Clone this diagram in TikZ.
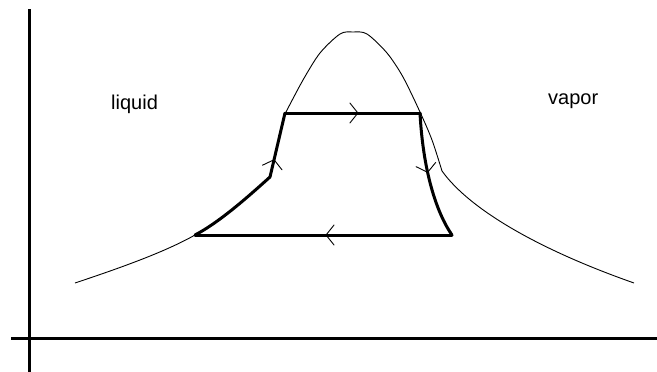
\documentclass[tikz,border=0pt]{standalone}
\usepackage{fontspec}
\setmainfont{Liberation Sans}
\usetikzlibrary{decorations.markings}
\tikzset{
  axis/.style={line width=3pt},
  dome/.style={line width=0.9pt},
  leg/.style={line width=3pt, line cap=round, line join=round},
  chev/.style={postaction=decorate, decoration={markings,
      mark=at position #1 with {\draw[line width=0.9pt] (-8pt,10pt) -- (0pt,0pt) -- (-8pt,-10pt);}}},
  lab/.style={font=\fontsize{20}{24}\selectfont, inner sep=0pt}
}

\begin{document}
\begin{tikzpicture}[x=1pt, y=-1pt]
\useasboundingbox (0,0) rectangle (657,372);
% axes
\coordinate (ytop) at (29,9);
\coordinate (ybot) at (29,372);
\coordinate (xl) at (11,338);
\coordinate (xr) at (657,338);
\draw[axis] (ybot) -- (ytop);
\draw[axis] (xl) -- (xr);
% saturation dome
\coordinate (lt) at (75,283);
\coordinate (rt) at (634,283);
\coordinate (rk) at (442,171);
\draw[dome] (lt) .. controls (120,268) and (165,252) .. (195,235);
\draw[dome] plot[smooth] coordinates {(286,112) (303,80) (320,53) (340,34) (353,32) (367,34) (387,53) (403,77) (420,112) (432,140) (442,171)};
\draw[dome] (rk) .. controls (470,210) and (540,250) .. (rt);
% cycle
\coordinate (A) at (195,235);
\coordinate (B) at (270,177);
\coordinate (C) at (285,113);
\coordinate (D) at (420,113);
\coordinate (E) at (452,235);
\draw[leg, chev=0.54] (C) -- (D);
\draw[leg, chev=0.47] (D) .. controls (423,170) and (436,212) .. (E);
\draw[leg, chev=0.49] (E) -- (A);
\draw[leg] (A) .. controls (220,222) and (250,195) .. (B);
\draw[leg, chev=0.27] (B) -- (C);
% phases
\node[lab, anchor=base west] (liquid) at (111,109) {liquid};
\node[lab, anchor=base west] (vapor) at (548,104) {vapor};
\end{tikzpicture}
\end{document}
